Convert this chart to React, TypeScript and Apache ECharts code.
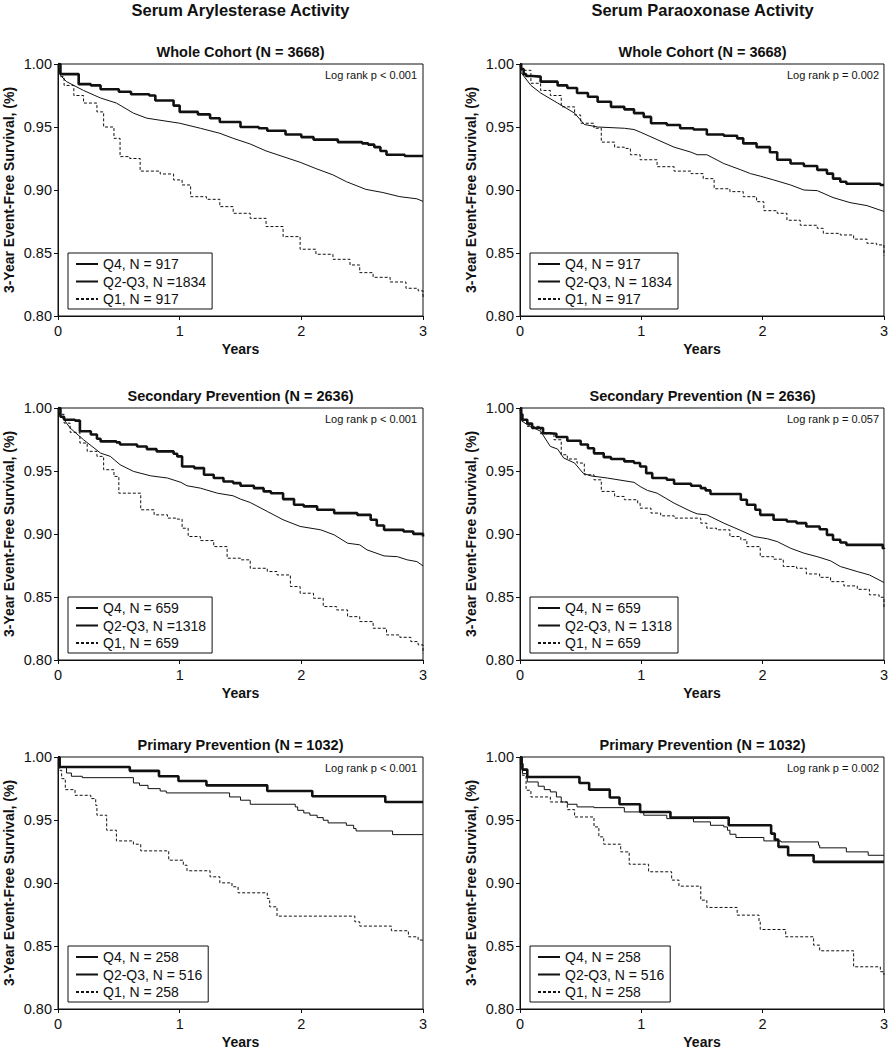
import React, { useEffect, useRef } from "react";
import * as echarts from "echarts";

type Pt = [number, number];

const FONT = "'Liberation Sans', Arial, Helvetica, sans-serif";

const columnTitles = ["Serum Arylesterase Activity", "Serum Paraoxonase Activity"];
const panelTitles = ["Whole Cohort (N = 3668)", "Secondary Prevention (N = 2636)", "Primary Prevention (N = 1032)"];
const logRankTexts = [
  ["Log rank p < 0.001", "Log rank p = 0.002"],
  ["Log rank p < 0.001", "Log rank p = 0.057"],
  ["Log rank p < 0.001", "Log rank p = 0.002"],
];
const legendNames = [
  [["Q4, N = 917", "Q2-Q3, N =1834", "Q1, N = 917"], ["Q4, N = 917", "Q2-Q3, N = 1834", "Q1, N = 917"]],
  [["Q4, N = 659", "Q2-Q3, N =1318", "Q1, N = 659"], ["Q4, N = 659", "Q2-Q3, N = 1318", "Q1, N = 659"]],
  [["Q4, N = 258", "Q2-Q3, N = 516", "Q1, N = 258"], ["Q4, N = 258", "Q2-Q3, N = 516", "Q1, N = 258"]],
];
const yAxisName = "3-Year Event-Free Survival, (%)";
const xAxisName = "Years";

// ---- Whole cohort, arylesterase ----
const aryWholeQ4: Pt[] = [[0,1],[0.02,0.992],[0.17,0.984],[0.27,0.983],[0.35,0.98],[0.5,0.978],[0.6,0.976],[0.75,0.975],[0.8,0.971],[0.95,0.967],[1.0,0.962],[1.15,0.96],[1.25,0.957],[1.33,0.954],[1.5,0.95],[1.65,0.949],[1.72,0.947],[1.87,0.944],[2.0,0.942],[2.1,0.94],[2.3,0.938],[2.5,0.937],[2.55,0.936],[2.6,0.934],[2.65,0.931],[2.7,0.928],[2.85,0.927],[3,0.927]];
const aryWholeMid: Pt[] = [[0,1],[0.02,0.991],[0.07,0.986],[0.21,0.979],[0.35,0.973],[0.48,0.969],[0.62,0.961],[0.73,0.957],[1.0,0.953],[1.17,0.949],[1.33,0.945],[1.44,0.941],[1.58,0.9365],[1.71,0.931],[1.85,0.9265],[1.99,0.922],[2.12,0.917],[2.26,0.912],[2.37,0.9066],[2.53,0.9005],[2.67,0.898],[2.81,0.8947],[2.95,0.893],[3,0.891]];
const aryWholeQ1: Pt[] = [[0,1],[0.02,0.99],[0.05,0.983],[0.13,0.975],[0.21,0.969],[0.32,0.962],[0.375,0.95],[0.46,0.941],[0.51,0.9265],[0.59,0.925],[0.675,0.915],[0.84,0.9127],[0.95,0.908],[1.02,0.904],[1.09,0.8947],[1.22,0.8926],[1.33,0.8868],[1.44,0.8815],[1.58,0.8775],[1.71,0.871],[1.85,0.863],[1.99,0.853],[2.12,0.849],[2.26,0.845],[2.4,0.8405],[2.48,0.8344],[2.59,0.8307],[2.73,0.827],[2.86,0.822],[2.96,0.82],[3,0.814]];

// ---- Whole cohort, paraoxonase ----
const paraWholeQ4: Pt[] = [[0,1],[0.01,0.996],[0.03,0.992],[0.05,0.9905],[0.1,0.99],[0.17,0.986],[0.31,0.983],[0.39,0.981],[0.47,0.977],[0.56,0.974],[0.64,0.97],[0.75,0.966],[0.86,0.964],[0.94,0.961],[1.02,0.958],[1.08,0.953],[1.21,0.9516],[1.32,0.949],[1.43,0.948],[1.54,0.944],[1.68,0.943],[1.79,0.941],[1.84,0.937],[1.95,0.934],[2.06,0.93],[2.12,0.924],[2.23,0.921],[2.34,0.919],[2.45,0.916],[2.53,0.913],[2.58,0.909],[2.64,0.9066],[2.69,0.905],[2.97,0.904],[3,0.904]];
const paraWholeMid: Pt[] = [[0,1],[0.01,0.993],[0.09,0.983],[0.17,0.977],[0.31,0.969],[0.45,0.961],[0.53,0.952],[0.64,0.95],[0.86,0.949],[0.94,0.948],[0.99,0.946],[1.13,0.94],[1.27,0.934],[1.41,0.93],[1.46,0.928],[1.54,0.928],[1.68,0.921],[1.82,0.916],[1.9,0.913],[1.98,0.911],[2.09,0.908],[2.23,0.904],[2.34,0.9],[2.45,0.8995],[2.58,0.894],[2.72,0.89],[2.86,0.8876],[3,0.883]];
const paraWholeQ1: Pt[] = [[0,1],[0.01,0.995],[0.09,0.9847],[0.17,0.979],[0.25,0.975],[0.34,0.966],[0.45,0.9595],[0.5,0.953],[0.61,0.949],[0.67,0.938],[0.78,0.934],[0.86,0.933],[0.91,0.928],[0.99,0.924],[1.13,0.9185],[1.27,0.915],[1.41,0.913],[1.51,0.909],[1.6,0.901],[1.73,0.8987],[1.84,0.8947],[1.95,0.8907],[2.01,0.8836],[2.12,0.8815],[2.2,0.876],[2.31,0.872],[2.45,0.8696],[2.5,0.8656],[2.64,0.8643],[2.75,0.861],[2.86,0.8577],[2.94,0.8564],[3,0.848]];

// ---- Secondary prevention, arylesterase ----
const arySecQ4: Pt[] = [[0,1],[0.02,0.993],[0.05,0.9907],[0.14,0.99],[0.18,0.9815],[0.27,0.979],[0.32,0.9756],[0.35,0.9735],[0.48,0.9727],[0.51,0.971],[0.65,0.9695],[0.73,0.9674],[0.81,0.9656],[0.95,0.9637],[0.98,0.9616],[1.02,0.9536],[1.12,0.9523],[1.2,0.947],[1.28,0.9444],[1.36,0.9417],[1.44,0.9404],[1.5,0.9383],[1.61,0.9364],[1.69,0.9338],[1.75,0.9324],[1.85,0.9277],[1.94,0.9232],[2.02,0.9219],[2.13,0.9192],[2.27,0.9166],[2.46,0.9152],[2.57,0.9113],[2.62,0.9068],[2.68,0.9033],[2.84,0.902],[2.92,0.9001],[3,0.898]];
const arySecMid: Pt[] = [[0,1],[0.01,0.995],[0.05,0.9907],[0.1,0.9841],[0.21,0.9748],[0.35,0.9642],[0.43,0.9616],[0.51,0.955],[0.62,0.9497],[0.76,0.9462],[0.9,0.9444],[1.01,0.941],[1.06,0.9383],[1.17,0.9364],[1.31,0.9324],[1.44,0.9303],[1.5,0.9277],[1.58,0.925],[1.72,0.9179],[1.85,0.9113],[1.99,0.906],[2.16,0.9033],[2.27,0.8993],[2.38,0.8927],[2.48,0.8914],[2.54,0.8874],[2.68,0.8826],[2.79,0.882],[2.87,0.8795],[2.95,0.8781],[3,0.8747]];
const arySecQ1: Pt[] = [[0,1],[0.01,0.995],[0.05,0.988],[0.1,0.9807],[0.18,0.9722],[0.24,0.9656],[0.32,0.9616],[0.375,0.951],[0.46,0.9457],[0.5,0.9324],[0.59,0.9324],[0.68,0.9192],[0.79,0.9152],[0.9,0.9126],[0.98,0.9118],[1.02,0.9046],[1.07,0.898],[1.17,0.8948],[1.28,0.89],[1.39,0.8808],[1.5,0.8795],[1.58,0.8728],[1.72,0.8702],[1.8,0.8675],[1.91,0.8583],[1.99,0.853],[2.1,0.849],[2.18,0.8424],[2.29,0.8397],[2.38,0.8344],[2.48,0.8305],[2.59,0.8252],[2.7,0.8199],[2.81,0.818],[2.9,0.8146],[2.96,0.812],[3,0.8053]];

// ---- Secondary prevention, paraoxonase ----
const paraSecQ4: Pt[] = [[0,1],[0.01,0.995],[0.02,0.9907],[0.06,0.9876],[0.1,0.9841],[0.19,0.98],[0.25,0.9796],[0.3,0.977],[0.39,0.974],[0.5,0.971],[0.56,0.968],[0.61,0.964],[0.69,0.961],[0.75,0.9595],[0.86,0.9576],[0.94,0.9563],[0.99,0.9536],[1.04,0.9483],[1.09,0.9444],[1.21,0.943],[1.27,0.9399],[1.41,0.9383],[1.49,0.9364],[1.53,0.9346],[1.57,0.9317],[1.82,0.9272],[1.87,0.9232],[1.94,0.9192],[1.98,0.9152],[2.09,0.9113],[2.2,0.9099],[2.28,0.9086],[2.36,0.906],[2.47,0.9038],[2.53,0.8993],[2.58,0.8954],[2.64,0.8932],[2.69,0.8914],[2.99,0.8887],[3,0.888]];
const paraSecMid: Pt[] = [[0,1],[0.01,0.99],[0.06,0.9868],[0.17,0.9815],[0.25,0.9695],[0.31,0.9674],[0.36,0.9603],[0.45,0.9563],[0.52,0.9483],[0.58,0.9462],[0.72,0.9444],[0.94,0.941],[0.99,0.9377],[1.05,0.9346],[1.13,0.9324],[1.27,0.9245],[1.41,0.9179],[1.46,0.916],[1.54,0.9152],[1.68,0.9086],[1.82,0.9028],[1.93,0.898],[2.04,0.8962],[2.12,0.894],[2.23,0.8887],[2.34,0.8848],[2.45,0.882],[2.56,0.8787],[2.64,0.8742],[2.78,0.8702],[2.88,0.8675],[3,0.8615]];
const paraSecQ1: Pt[] = [[0,1],[0.01,0.99],[0.06,0.9854],[0.17,0.9796],[0.28,0.9748],[0.34,0.9629],[0.39,0.9595],[0.47,0.9563],[0.53,0.947],[0.61,0.943],[0.67,0.9338],[0.78,0.9298],[0.86,0.9272],[0.97,0.9245],[0.99,0.9205],[1.08,0.9166],[1.16,0.9144],[1.27,0.9126],[1.38,0.9126],[1.49,0.9086],[1.54,0.9046],[1.62,0.9033],[1.73,0.898],[1.82,0.8954],[1.87,0.89],[1.98,0.882],[2.09,0.88],[2.17,0.8742],[2.28,0.8728],[2.36,0.8683],[2.47,0.8656],[2.56,0.8622],[2.67,0.8588],[2.78,0.8561],[2.88,0.8517],[2.96,0.8498],[3,0.8411]];

// ---- Primary prevention, arylesterase ----
const aryPrimQ4: Pt[] = [[0,1],[0.01,0.9921],[0.59,0.989],[0.83,0.9847],[0.99,0.981],[1.22,0.9775],[1.72,0.973],[2.09,0.9688],[2.69,0.9643],[3,0.9643]];
const aryPrimMid: Pt[] = [[0,1],[0.02,0.992],[0.07,0.9873],[0.11,0.9847],[0.2,0.9836],[0.62,0.9794],[0.67,0.9775],[0.74,0.9749],[0.84,0.973],[0.89,0.9715],[1.41,0.9683],[1.5,0.9657],[1.58,0.9625],[1.95,0.9604],[1.97,0.9577],[2.02,0.9556],[2.07,0.9538],[2.13,0.9519],[2.18,0.9498],[2.22,0.9477],[2.37,0.9458],[2.43,0.9432],[2.45,0.9413],[2.75,0.9384],[3,0.9384]];
const aryPrimQ1: Pt[] = [[0,1],[0.01,0.9894],[0.03,0.9828],[0.06,0.9741],[0.14,0.9696],[0.27,0.967],[0.31,0.9617],[0.32,0.9538],[0.4,0.9419],[0.48,0.9334],[0.62,0.9308],[0.68,0.9255],[0.91,0.9181],[1.03,0.9141],[1.06,0.9097],[1.25,0.9049],[1.33,0.9001],[1.43,0.897],[1.48,0.8922],[1.72,0.8877],[1.74,0.8811],[1.8,0.8737],[2.44,0.8692],[2.48,0.8658],[2.74,0.8621],[2.88,0.8573],[2.96,0.8547],[3,0.8534]];

// ---- Primary prevention, paraoxonase ----
const paraPrimQ4: Pt[] = [[0,1],[0.01,0.9947],[0.02,0.99],[0.06,0.9841],[0.49,0.9794],[0.57,0.9741],[0.74,0.9678],[0.82,0.9625],[0.99,0.9564],[1.24,0.9519],[1.72,0.9458],[2.07,0.9392],[2.1,0.9344],[2.13,0.9287],[2.21,0.922],[2.42,0.9168],[3,0.9168]];
const paraPrimMid: Pt[] = [[0,1],[0.02,0.9868],[0.06,0.9802],[0.15,0.9768],[0.2,0.9741],[0.25,0.9723],[0.3,0.9683],[0.34,0.9643],[0.39,0.9625],[0.47,0.9604],[0.61,0.9598],[0.86,0.9564],[1.02,0.9538],[1.21,0.9511],[1.43,0.9485],[1.57,0.9458],[1.68,0.9445],[1.71,0.9419],[1.73,0.9387],[1.78,0.9361],[2.01,0.9334],[2.15,0.9326],[2.46,0.93],[2.47,0.9279],[2.69,0.9247],[2.87,0.922],[3,0.922]];
const paraPrimQ1: Pt[] = [[0,1],[0.01,0.992],[0.02,0.9855],[0.05,0.9736],[0.09,0.9683],[0.25,0.9643],[0.39,0.9582],[0.45,0.9524],[0.61,0.9445],[0.65,0.9366],[0.69,0.9308],[0.83,0.9247],[0.9,0.9149],[1.06,0.9089],[1.25,0.9023],[1.31,0.8975],[1.49,0.8864],[1.54,0.8806],[1.79,0.8745],[1.97,0.8692],[1.98,0.8631],[2.19,0.8573],[2.42,0.8507],[2.47,0.8462],[2.75,0.8335],[2.97,0.8296],[3,0.827]];

const panelData: Pt[][][][] = [
  [[aryWholeQ4, aryWholeMid, aryWholeQ1], [paraWholeQ4, paraWholeMid, paraWholeQ1]],
  [[arySecQ4, arySecMid, arySecQ1], [paraSecQ4, paraSecMid, paraSecQ1]],
  [[aryPrimQ4, aryPrimMid, aryPrimQ1], [paraPrimQ4, paraPrimMid, paraPrimQ1]],
];

const yMin = 0.8;
const yMax = 1.0;
const yStep = 0.05;
const xMin = 0;
const xMax = 3;
const xStep = 1;

// layout
const COL_LEFT = [58, 520];
const ROW_TOP = [64, 408, 757];
const GW = 365;
const GH = 252;
const INK = "#111";

export default function App() {
  const ref = useRef<HTMLDivElement>(null);
  useEffect(() => {
    if (!ref.current) return;
    const chart = echarts.init(ref.current, undefined, { renderer: "svg" });
    const grids: any[] = [];
    const xAxes: any[] = [];
    const yAxes: any[] = [];
    const series: any[] = [];
    const legends: any[] = [];
    const graphics: any[] = [];

    columnTitles.forEach((t, c) => {
      graphics.push({
        type: "text",
        x: COL_LEFT[c] + GW / 2,
        y: 10,
        style: { text: t, font: `bold 16.5px ${FONT}`, fill: INK, textAlign: "center", textVerticalAlign: "middle", align: "center", verticalAlign: "middle" },
      });
    });

    let idx = 0;
    for (let r = 0; r < 3; r++) {
      for (let c = 0; c < 2; c++) {
        const left = COL_LEFT[c];
        const top = ROW_TOP[r];
        grids.push({ left, top, width: GW, height: GH, show: true, borderColor: INK, borderWidth: 1, backgroundColor: "transparent", containLabel: false });
        xAxes.push({
          type: "value", gridIndex: idx, min: xMin, max: xMax, interval: xStep,
          name: xAxisName, nameLocation: "middle", nameGap: 26,
          nameTextStyle: { fontFamily: FONT, fontWeight: "bold", fontSize: 14, color: INK },
          axisLine: { show: true, lineStyle: { color: INK, width: 1 } },
          axisTick: { show: true, length: 4, lineStyle: { color: INK } },
          axisLabel: { fontFamily: FONT, fontSize: 14.5, color: INK, margin: 7 },
          splitLine: { show: false },
        });
        yAxes.push({
          type: "value", gridIndex: idx, min: yMin, max: yMax, interval: yStep,
          name: yAxisName, nameLocation: "middle", nameGap: 42,
          nameTextStyle: { fontFamily: FONT, fontWeight: "bold", fontSize: 14, color: INK },
          axisLine: { show: true, lineStyle: { color: INK, width: 1 } },
          axisTick: { show: true, length: 4, lineStyle: { color: INK } },
          axisLabel: { fontFamily: FONT, fontSize: 14.5, color: INK, margin: 6, formatter: (v: number) => v.toFixed(2) },
          splitLine: { show: false },
        });
        const names = legendNames[r][c];
        const data = panelData[r][c];
        const smoothMid = r < 2;
        const styles = [
          { width: 2.6, type: "solid", step: "end" },
          { width: 1, type: "solid", step: smoothMid ? false : "end" },
          { width: 1, type: [3, 2], step: "end" },
        ];
        data.forEach((d, k) => {
          series.push({
            type: "line", name: names[k], xAxisIndex: idx, yAxisIndex: idx,
            data: d, step: styles[k].step, symbol: "none", showSymbol: false,
            lineStyle: { color: INK, width: styles[k].width, type: styles[k].type },
            itemStyle: { color: INK },
            silent: true, z: 3 - k,
          });
        });
        legends.push({
          left: left + 10, top: top + GH - 63, orient: "vertical", data: names,
          borderColor: INK, borderWidth: 1, padding: [4, 6, 3, 7], itemWidth: 22, itemHeight: 14, itemGap: 3.5,
          itemStyle: { opacity: 0 },
          textStyle: { fontFamily: FONT, fontSize: 14, color: INK }, selectedMode: false, backgroundColor: "#fff",
        });
        graphics.push({
          type: "text",
          x: left + GW - 6,
          y: top + 11,
          style: { text: logRankTexts[r][c], font: `11px ${FONT}`, fill: INK, textAlign: "right", textVerticalAlign: "middle", align: "right", verticalAlign: "middle" },
        });
        graphics.push({
          type: "text",
          x: left + GW / 2,
          y: top - 12,
          style: { text: panelTitles[r], font: `bold 14.5px ${FONT}`, fill: INK, textAlign: "center", textVerticalAlign: "middle", align: "center", verticalAlign: "middle" },
        });
        idx++;
      }
    }

    chart.setOption({
      animation: false,
      backgroundColor: "#fff",
      grid: grids,
      xAxis: xAxes,
      yAxis: yAxes,
      series,
      legend: legends,
      graphic: graphics,
    });
    return () => chart.dispose();
  }, []);
  return <div ref={ref} style={{ position: "absolute", left: 0, top: 0, width: 891, height: 1050 }} />;
}
